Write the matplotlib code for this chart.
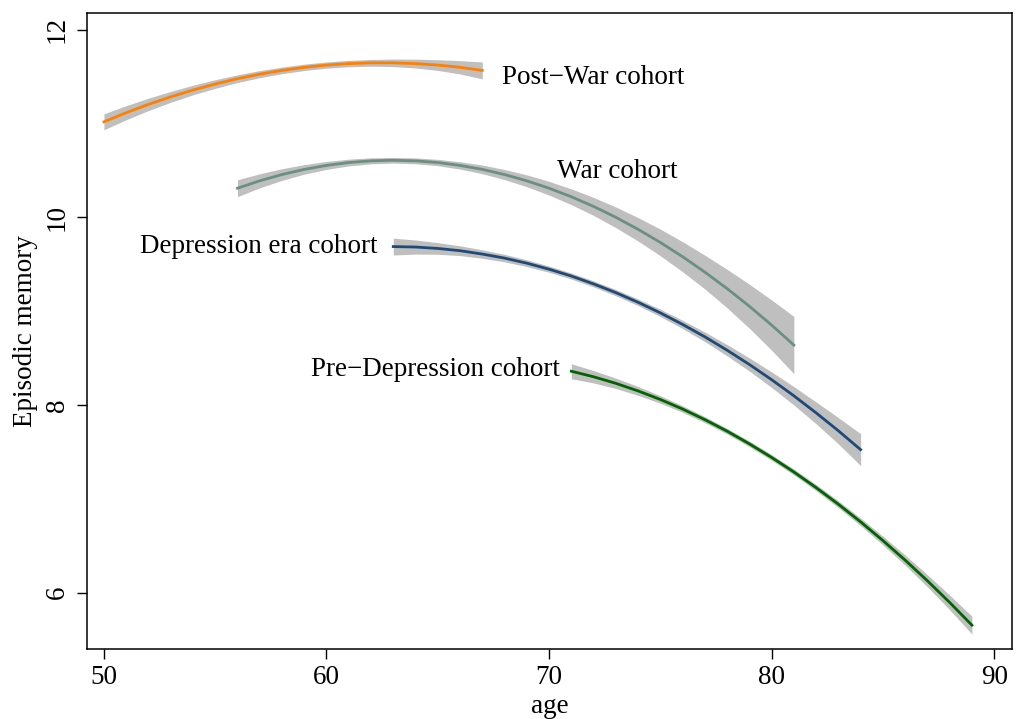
import numpy as np
import matplotlib
matplotlib.use('Agg')
import matplotlib.pyplot as plt

# --- fitted episodic memory curves by birth cohort ---

postwar_age = list(range(50, 68))
postwar_fit = [11.020, 11.117, 11.206, 11.286, 11.359, 11.423, 11.480, 11.528,
               11.568, 11.601, 11.625, 11.641, 11.649, 11.649, 11.641, 11.625,
               11.601, 11.568]
postwar_hw = [0.085, 0.075, 0.066, 0.058, 0.051, 0.046, 0.041, 0.038, 0.035,
              0.034, 0.033, 0.034, 0.036, 0.040, 0.047, 0.057, 0.071, 0.090]

war_age = list(range(56, 82))
war_fit = [10.312, 10.391, 10.458, 10.513, 10.555, 10.586, 10.604, 10.610,
           10.604, 10.586, 10.555, 10.513, 10.458, 10.391, 10.312, 10.221,
           10.118, 10.002, 9.874, 9.734, 9.582, 9.418, 9.242, 9.054, 8.853,
           8.640]
war_hw = [0.090, 0.075, 0.062, 0.051, 0.042, 0.036, 0.032, 0.030, 0.031,
          0.034, 0.039, 0.046, 0.054, 0.063, 0.073, 0.084, 0.096, 0.110,
          0.125, 0.142, 0.160, 0.180, 0.205, 0.235, 0.268, 0.305]

depr_age = list(range(63, 85))
depr_fit = [9.690, 9.685, 9.670, 9.646, 9.610, 9.567, 9.513, 9.449, 9.376,
            9.292, 9.199, 9.096, 8.983, 8.860, 8.728, 8.585, 8.433, 8.271,
            8.099, 7.917, 7.726, 7.525]
depr_hw = [0.090, 0.075, 0.062, 0.052, 0.045, 0.040, 0.036, 0.033, 0.032,
           0.032, 0.033, 0.035, 0.039, 0.044, 0.051, 0.060, 0.070, 0.083,
           0.098, 0.116, 0.140, 0.170]

pre_age = list(range(71, 90))
pre_fit = [8.361, 8.302, 8.232, 8.151, 8.060, 7.958, 7.845, 7.722, 7.587,
           7.442, 7.287, 7.120, 6.943, 6.755, 6.556, 6.347, 6.127, 5.896,
           5.654]
pre_hw = [0.080, 0.066, 0.055, 0.047, 0.040, 0.035, 0.032, 0.030, 0.030,
          0.030, 0.031, 0.033, 0.036, 0.040, 0.046, 0.054, 0.064, 0.078,
          0.095]

x_ticks = [50, 60, 70, 80, 90]
y_ticks = [6, 8, 10, 12]

plt.rcParams['font.family'] = ['Liberation Serif', 'DejaVu Serif']
plt.rcParams['axes.linewidth'] = 1.1

fig = plt.figure(figsize=(10.19, 7.19), dpi=100)
ax = fig.add_axes([0.0854, 0.0974, 0.9077, 0.8845])

curves = [
    (postwar_age, postwar_fit, postwar_hw, '#ff8000'),
    (war_age, war_fit, war_hw, '#6a9080'),
    (depr_age, depr_fit, depr_hw, '#1f4a78'),
    (pre_age, pre_fit, pre_hw, '#006400'),
]
for age, fit, hw, col in curves:
    age = np.array(age)
    fit = np.array(fit)
    hw = np.array(hw)
    ax.fill_between(age, fit - hw, fit + hw, color='#bfbfbf', lw=0)
    ax.plot(age, fit, color=col, lw=2.0)

# cohort labels
fs = 19.5
ax.text(67.9, 11.49, 'Post\u2212War cohort', fontsize=fs, ha='left', va='center')
ax.text(70.35, 10.49, 'War cohort', fontsize=fs, ha='left', va='center')
ax.text(62.3, 9.69, 'Depression era cohort', fontsize=fs, ha='right', va='center')
ax.text(70.5, 8.38, 'Pre\u2212Depression cohort', fontsize=fs, ha='right', va='center')

ax.set_xlim(49.24, 90.8)
ax.set_ylim(5.40, 12.18)
ax.set_xticks(x_ticks)
ax.set_yticks(y_ticks)
ax.tick_params(axis='both', direction='out', length=7.2, width=1.0, labelsize=fs)
ax.tick_params(axis='x', pad=4)
ax.tick_params(axis='y', pad=5)
for lab in ax.get_yticklabels():
    lab.set_rotation(90)
    lab.set_va('center')

ax.set_xlabel('age', fontsize=fs, labelpad=3)
ax.set_ylabel('Episodic memory', fontsize=fs, labelpad=5)

fig.savefig('out.png', dpi=100)
